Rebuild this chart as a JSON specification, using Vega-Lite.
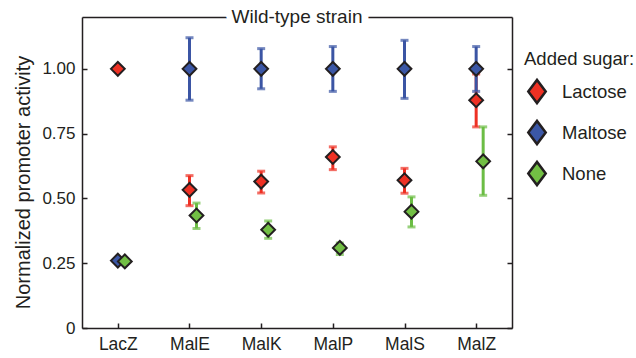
{
  "$schema": "https://vega.github.io/schema/vega-lite/v6.json",
  "autosize": {"type": "none"},
  "padding": {"left": 82, "top": 17, "right": 124, "bottom": 30},
  "width": 430,
  "height": 311,
  "config": {
    "font": "Liberation Sans",
    "view": {"stroke": null},
    "axis": {"labelColor": "#231f20", "titleColor": "#231f20", "domainColor": "#231f20", "tickColor": "#231f20", "domainWidth": 1.5, "tickWidth": 1.5, "grid": false, "titleFontWeight": "normal"},
    "legend": {"labelColor": "#231f20", "titleColor": "#231f20"}
  },
  "datasets": {
    "main": [
      {"gene": "LacZ", "sugar": "Lactose", "value": 1.0, "lo": 1.0, "hi": 1.0},
      {"gene": "LacZ", "sugar": "Maltose", "value": 0.26, "lo": 0.26, "hi": 0.26},
      {"gene": "LacZ", "sugar": "None", "value": 0.257, "lo": 0.257, "hi": 0.257},
      {"gene": "MalE", "sugar": "Lactose", "value": 0.533, "lo": 0.472, "hi": 0.588},
      {"gene": "MalE", "sugar": "Maltose", "value": 1.0, "lo": 0.879, "hi": 1.12},
      {"gene": "MalE", "sugar": "None", "value": 0.434, "lo": 0.384, "hi": 0.482},
      {"gene": "MalK", "sugar": "Lactose", "value": 0.565, "lo": 0.521, "hi": 0.605},
      {"gene": "MalK", "sugar": "Maltose", "value": 1.0, "lo": 0.923, "hi": 1.078},
      {"gene": "MalK", "sugar": "None", "value": 0.379, "lo": 0.346, "hi": 0.413},
      {"gene": "MalP", "sugar": "Lactose", "value": 0.66, "lo": 0.611, "hi": 0.699},
      {"gene": "MalP", "sugar": "Maltose", "value": 1.0, "lo": 0.913, "hi": 1.086},
      {"gene": "MalP", "sugar": "None", "value": 0.309, "lo": 0.284, "hi": 0.328},
      {"gene": "MalS", "sugar": "Lactose", "value": 0.57, "lo": 0.52, "hi": 0.616},
      {"gene": "MalS", "sugar": "Maltose", "value": 1.0, "lo": 0.886, "hi": 1.11},
      {"gene": "MalS", "sugar": "None", "value": 0.449, "lo": 0.39, "hi": 0.506},
      {"gene": "MalZ", "sugar": "Lactose", "value": 0.879, "lo": 0.776, "hi": 0.98},
      {"gene": "MalZ", "sugar": "Maltose", "value": 1.0, "lo": 0.913, "hi": 1.086},
      {"gene": "MalZ", "sugar": "None", "value": 0.643, "lo": 0.512, "hi": 0.776}
    ],
    "title": [{"t": "Wild-type strain"}]
  },
  "layer": [
    {
      "data": {"name": "main"},
      "encoding": {
        "x": {"field": "gene", "type": "nominal", "sort": null, "scale": {"type": "point", "padding": 0.5},
          "axis": {"title": null, "labelAngle": 0, "tickSize": -5, "labelPadding": 12, "labelFontSize": 17.5, "domain": true}}
      },
      "layer": [
        {
          "transform": [{"filter": "datum.sugar != 'None'"}],
          "mark": {"type": "rule", "strokeWidth": 3},
          "encoding": {
            "y": {"field": "lo", "type": "quantitative", "scale": {"domain": [0, 1.2], "nice": false, "zero": true},
              "axis": {"title": "Normalized promoter activity", "values": [0, 0.25, 0.5, 0.75, 1], "labelExpr": "datum.value == 0 ? '0' : format(datum.value, '.2f')", "tickSize": -5, "labelPadding": 12, "labelFontSize": 17, "titleFontSize": 20, "titlePadding": 8, "titleY": 165}},
            "y2": {"field": "hi"},
            "stroke": {"field": "sugar", "type": "nominal", "legend": null, "scale": {"domain": ["None", "Maltose", "Lactose"], "range": ["#6cbd45", "#3b55a4", "#ee3124"]}}
          }
        },
        {
          "transform": [{"filter": "datum.sugar != 'None'"}],
          "mark": {"type": "tick", "size": 8, "thickness": 3, "orient": "horizontal"},
          "encoding": {"y": {"field": "lo", "type": "quantitative"},
            "fill": {"field": "sugar", "type": "nominal", "legend": null, "scale": {"domain": ["None", "Maltose", "Lactose"], "range": ["#6cbd45", "#3b55a4", "#ee3124"]}}}
        },
        {
          "transform": [{"filter": "datum.sugar != 'None'"}],
          "mark": {"type": "tick", "size": 8, "thickness": 3, "orient": "horizontal"},
          "encoding": {"y": {"field": "hi", "type": "quantitative"}, "fill": {"field": "sugar", "type": "nominal", "legend": null}}
        },
        {
          "transform": [{"filter": "datum.sugar == 'None'"}],
          "mark": {"type": "rule", "strokeWidth": 3, "xOffset": 7},
          "encoding": {"y": {"field": "lo", "type": "quantitative"}, "y2": {"field": "hi"}, "stroke": {"field": "sugar", "type": "nominal", "legend": null}}
        },
        {
          "transform": [{"filter": "datum.sugar == 'None'"}],
          "mark": {"type": "tick", "size": 8, "thickness": 3, "orient": "horizontal", "xOffset": 7},
          "encoding": {"y": {"field": "lo", "type": "quantitative"}, "fill": {"field": "sugar", "type": "nominal", "legend": null}}
        },
        {
          "transform": [{"filter": "datum.sugar == 'None'"}],
          "mark": {"type": "tick", "size": 8, "thickness": 3, "orient": "horizontal", "xOffset": 7},
          "encoding": {"y": {"field": "hi", "type": "quantitative"}, "fill": {"field": "sugar", "type": "nominal", "legend": null}}
        },
        {
          "transform": [{"filter": "datum.sugar != 'None'"}],
          "mark": {"type": "point", "shape": "diamond", "filled": true, "size": 190, "stroke": "#231f20", "strokeWidth": 2, "opacity": 1},
          "encoding": {"y": {"field": "value", "type": "quantitative"},
            "color": {"field": "sugar", "type": "nominal", "scale": {"domain": ["Lactose", "Maltose", "None"], "range": ["#ee3124", "#3b57a6", "#72bf44"]},
              "legend": {"title": "Added sugar:", "orient": "none", "legendX": 442, "legendY": 33, "titleFontSize": 18.5, "titleFontWeight": "normal", "titlePadding": 10, "labelFontSize": 18.5, "symbolType": "M-0.75,0L0,-1L0.75,0L0,1Z", "symbolSize": 540, "symbolStrokeColor": "#231f20", "symbolStrokeWidth": 2.5, "symbolOpacity": 1, "rowPadding": 7, "labelOffset": 12}}}
        },
        {
          "transform": [{"filter": "datum.sugar == 'None'"}],
          "mark": {"type": "point", "shape": "diamond", "filled": true, "size": 190, "stroke": "#231f20", "strokeWidth": 2, "opacity": 1, "xOffset": 7},
          "encoding": {"y": {"field": "value", "type": "quantitative"}, "color": {"field": "sugar", "type": "nominal"}}
        }
      ]
    },
    {
      "data": {"name": "title"},
      "mark": {"type": "text", "fontSize": 19, "fill": "white", "stroke": "white", "strokeWidth": 14, "baseline": "middle", "align": "center"},
      "encoding": {
        "x": {"datum": 0.5, "type": "quantitative", "scale": {"domain": [0, 1]}, "axis": null},
        "y": {"datum": 1.2, "type": "quantitative", "scale": {"domain": [0, 1.2], "nice": false}, "axis": {"orient": "right", "title": null, "labels": false, "values": [0, 0.25, 0.5, 0.75, 1], "tickSize": -5}},
        "text": {"field": "t"}
      }
    },
    {
      "data": {"name": "title"},
      "mark": {"type": "text", "fontSize": 19, "fill": "#231f20", "baseline": "middle", "align": "center"},
      "encoding": {
        "x": {"datum": 0.5, "type": "quantitative", "scale": {"domain": [0, 1]}, "axis": {"orient": "top", "title": null, "labels": false, "ticks": false}},
        "y": {"datum": 1.2, "type": "quantitative", "scale": {"domain": [0, 1.2], "nice": false}, "axis": null},
        "text": {"field": "t"}
      }
    }
  ],
  "resolve": {"scale": {"x": "independent", "y": "independent"}}
}
